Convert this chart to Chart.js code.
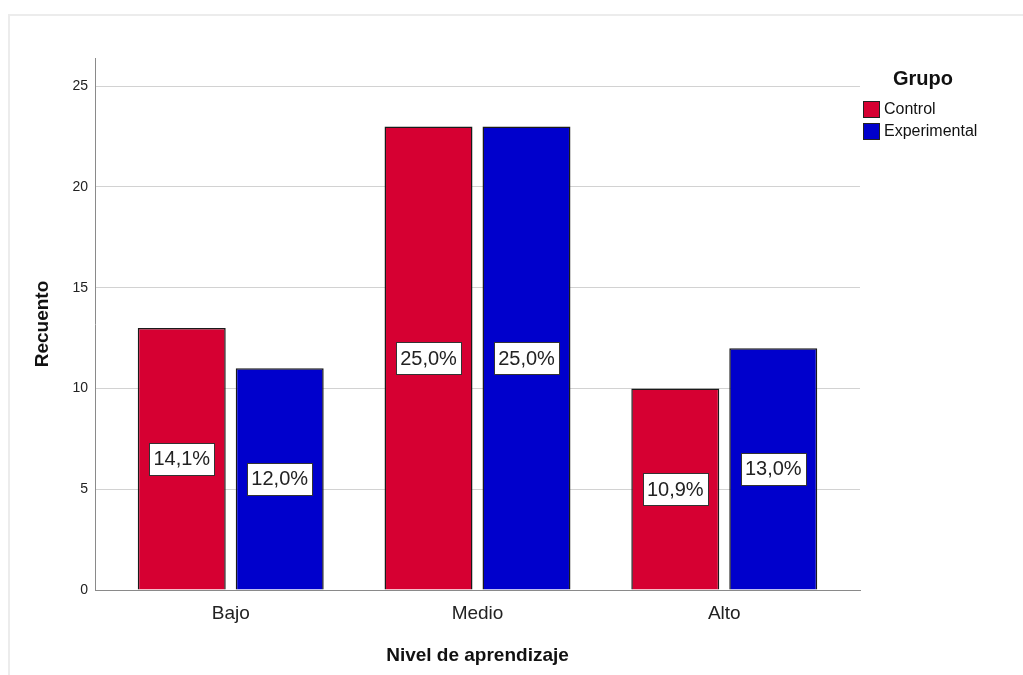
<!DOCTYPE html>
<html>
<head>
<meta charset="utf-8">
<script src="https://cdn.jsdelivr.net/npm/chart.js@4"></script>
<style>
  html, body { margin: 0; padding: 0; background: #ffffff; }
  #wrap { width: 1023px; height: 675px; position: relative; }
</style>
</head>
<body>
<div id="wrap"><canvas id="c" width="1023" height="675"></canvas></div>
<script>
// Counts per learning level, one array per group
const categories = ['Bajo', 'Medio', 'Alto'];
const groups = ['Control', 'Experimental'];
const controlCounts = [13, 23, 10];
const experimentalCounts = [11, 23, 12];
const yTicks = [0, 5, 10, 15, 20, 25];
const groupColors = ['#D60032', '#0000CC'];

const FONT = '"Liberation Sans", Arial, Helvetica, sans-serif';
const total = controlCounts.concat(experimentalCounts).reduce((a, b) => a + b, 0);

function toPoints(arr) {
  return arr.map((v, i) => ({ x: i, y: v }));
}

// Light outer frame around the output
const framePlugin = {
  id: 'frame',
  beforeDraw(chart) {
    const ctx = chart.ctx;
    ctx.save();
    ctx.fillStyle = '#ffffff';
    ctx.fillRect(0, 0, chart.width, chart.height);
    ctx.strokeStyle = '#ececec';
    ctx.lineWidth = 2;
    ctx.strokeRect(9, 15, chart.width + 20, chart.height + 20);
    ctx.restore();
  }
};

// Percentage-of-total boxes in the middle of each bar
const pctLabels = {
  id: 'pctLabels',
  afterDatasetsDraw(chart) {
    const ctx = chart.ctx;
    ctx.save();
    ctx.font = '20px ' + FONT;
    ctx.textAlign = 'center';
    ctx.textBaseline = 'middle';
    chart.data.datasets.forEach((ds, di) => {
      const meta = chart.getDatasetMeta(di);
      meta.data.forEach((bar, i) => {
        const v = ds.data[i].y;
        const txt = (v / total * 100).toFixed(1).replace('.', ',') + '%';
        const cy = (bar.y + bar.base) / 2;
        const w = ctx.measureText(txt).width + 8;
        const h = 32;
        const x0 = Math.round(bar.x - w / 2) + 0.5;
        const y0 = Math.round(cy - h / 2) + 0.5;
        ctx.fillStyle = '#ffffff';
        ctx.fillRect(x0, y0, Math.round(w), h);
        ctx.strokeStyle = '#333333';
        ctx.lineWidth = 1;
        ctx.strokeRect(x0, y0, Math.round(w), h);
        ctx.fillStyle = '#222222';
        ctx.fillText(txt, bar.x, cy + 1);
      });
    });
    ctx.restore();
  }
};

// Legend with title to the right of the plot
const sideLegend = {
  id: 'sideLegend',
  afterDraw(chart) {
    const ctx = chart.ctx;
    const left = chart.chartArea.right + 3;
    ctx.save();
    ctx.fillStyle = '#111111';
    ctx.font = 'bold 20px ' + FONT;
    ctx.textAlign = 'center';
    ctx.textBaseline = 'middle';
    ctx.fillText('Grupo', left + 60, 79);
    ctx.font = '16px ' + FONT;
    ctx.textAlign = 'left';
    chart.data.datasets.forEach((ds, i) => {
      const y = 101 + i * 22;
      ctx.fillStyle = ds.backgroundColor;
      ctx.fillRect(left + 0.5, y + 0.5, 16, 16);
      ctx.strokeStyle = '#222222';
      ctx.lineWidth = 1;
      ctx.strokeRect(left + 0.5, y + 0.5, 16, 16);
      ctx.fillStyle = '#111111';
      ctx.fillText(ds.label, left + 21, y + 9);
    });
    ctx.restore();
  }
};

new Chart(document.getElementById('c'), {
  type: 'bar',
  data: {
    datasets: [
      {
        label: groups[0],
        data: toPoints(controlCounts),
        backgroundColor: groupColors[0],
        borderColor: '#1a1a1a',
        borderWidth: 1.5
      },
      {
        label: groups[1],
        data: toPoints(experimentalCounts),
        backgroundColor: groupColors[1],
        borderColor: '#1a1a1a',
        borderWidth: 1.5
      }
    ]
  },
  options: {
    responsive: false,
    animation: false,
    devicePixelRatio: 1,
    categoryPercentage: 0.794,
    barPercentage: 0.898,
    layout: { padding: { top: 58, right: 163, left: 0, bottom: 0 } },
    plugins: {
      legend: { display: false },
      tooltip: { enabled: false }
    },
    scales: {
      x: {
        type: 'linear',
        offset: false,
        min: -0.55,
        max: 2.55,
        afterBuildTicks(scale) {
          scale.ticks = categories.map((c, i) => ({ value: i }));
        },
        afterFit(scale) { scale.height = 85; },
        grid: { display: false, drawTicks: false, offset: false },
        border: { display: true, color: '#8a8a8a', width: 1 },
        ticks: {
          padding: 12,
          color: '#222222',
          font: { family: FONT, size: 19 },
          callback: (v) => categories[v] !== undefined ? categories[v] : ''
        },
        title: {
          display: true,
          text: 'Nivel de aprendizaje',
          color: '#111111',
          font: { family: FONT, size: 19, weight: 'bold' },
          padding: { top: 0, bottom: 8 }
        }
      },
      y: {
        min: 0,
        max: 26.4,
        afterBuildTicks(scale) {
          scale.ticks = yTicks.map(v => ({ value: v }));
        },
        afterFit(scale) { scale.width = 95; },
        grid: {
          drawTicks: false,
          color: (c) => (c.tick && c.tick.value === 0) ? 'rgba(0,0,0,0)' : '#d2d2d2',
          lineWidth: 1
        },
        border: { display: true, color: '#8a8a8a', width: 1 },
        ticks: {
          padding: 7,
          color: '#222222',
          font: { family: FONT, size: 14 }
        },
        title: {
          display: true,
          text: 'Recuento',
          color: '#111111',
          font: { family: FONT, size: 19, weight: 'bold' },
          padding: { top: 31, bottom: 0 }
        }
      }
    }
  },
  plugins: [framePlugin, pctLabels, sideLegend]
});
</script>
</body>
</html>
